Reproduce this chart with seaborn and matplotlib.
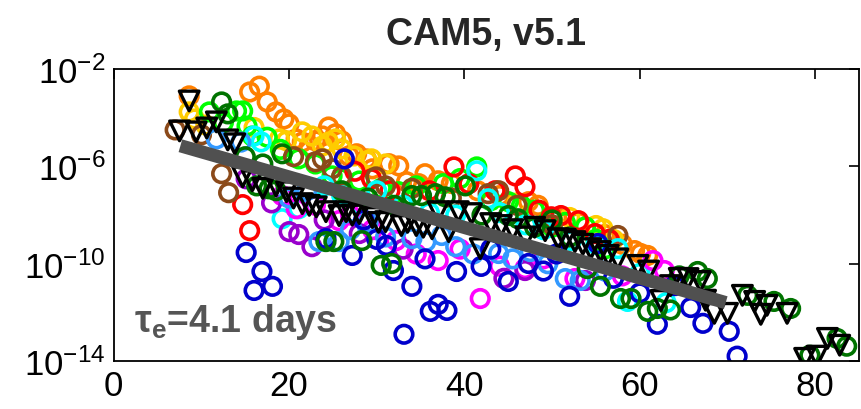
import numpy as np
import matplotlib
matplotlib.use("Agg")
import matplotlib.pyplot as plt
import seaborn as sns

# --- data (x = day, y given as log10 of the value) ---
orange_x = [8.6, 15.5, 16.6, 17.5, 18.5, 19.4, 20.0, 20.8, 21.5, 22.3, 23.0, 23.8, 24.5, 25.3, 26.0,
            26.8, 27.7, 28.8, 29.5, 31.4, 32.5, 33.4, 34.8, 35.5, 37.0, 38.5, 41.5, 44.0, 47.3, 48.4,
            50.5, 53.0, 56.0, 58.0, 59.4, 60.1, 60.9]
orange_y = [-3.10, -2.94, -2.70, -3.35, -3.76, -4.05, -4.25, -4.87, -5.00, -5.16, -4.95, -4.75, -4.38, -4.66, -4.95,
            -5.57, -5.48, -5.69, -6.10, -5.89, -5.98, -6.63, -6.71, -6.30, -6.59, -6.70, -7.00, -7.20, -7.45, -7.60,
            -8.10, -8.30, -8.80, -9.20, -9.46, -9.58, -9.66]

yellow_x = [8.6, 9.2, 10.5, 16.0, 18.9, 19.7, 21.5, 22.6, 23.8, 24.5, 25.3, 26.0, 27.4, 28.9, 29.4, 31.0,
            46.0, 52.0, 55.0, 55.8, 57.0]
yellow_y = [-3.76, -4.05, -4.30, -4.40, -4.87, -4.95, -4.58, -4.75, -5.16, -5.00, -4.87, -5.28, -5.57, -5.77, -5.69, -5.90,
            -7.50, -8.10, -8.43, -8.56, -9.00]

lime_x = [10.9, 12.5, 14.0, 14.7, 15.2, 15.8, 17.5, 19.0, 21.1, 23.0, 24.9, 25.9, 28.0, 30.5, 32.5, 34.5,
          37.6, 39.5, 41.4, 43.0, 45.0, 46.5, 48.0, 50.0, 51.5, 53.8, 55.0, 56.1]
lime_y = [-3.76, -4.20, -3.72, -3.72, -4.34, -4.75, -4.80, -5.30, -5.69, -5.90, -6.39, -6.51, -6.60, -6.90, -7.04, -6.80,
          -6.71, -6.50, -6.02, -7.41, -7.45, -7.61, -7.80, -8.50, -8.30, -8.48, -9.00, -9.38]

red_x = [14.7, 15.5, 27.5, 29.4, 31.5, 36.0, 38.8, 40.5, 43.5, 45.8, 46.9, 48.5, 49.9, 51.0, 53.0, 54.9, 56.5]
red_y = [-7.57, -8.64, -6.20, -6.51, -7.00, -7.00, -6.02, -6.71, -7.00, -6.39, -6.84, -7.80, -8.07, -8.02, -8.23, -8.76, -9.00]

brown_x = [7.0, 10.0, 12.3, 13.1, 20.5, 23.0, 23.8, 24.9, 26.0, 29.9, 31.0, 34.0, 38.5, 42.7, 43.9, 46.0, 50.0, 57.5]
brown_y = [-4.50, -4.70, -6.30, -7.08, -5.60, -5.81, -5.69, -6.10, -6.40, -6.43, -6.80, -6.90, -7.30, -7.12, -7.00, -7.60, -8.40, -8.84]

cyan_x = [16.0, 16.8, 19.2, 21.1, 24.0, 26.0, 28.0, 30.0, 33.0, 36.0, 39.0, 41.4, 42.7, 44.0, 47.0, 49.0,
          52.2, 55.0, 57.5, 58.6, 60.0, 63.0]
cyan_y = [-4.75, -4.99, -8.15, -7.74, -6.80, -7.20, -7.53, -7.00, -7.60, -7.90, -8.00, -6.18, -7.33, -7.90, -8.40, -8.60,
          -9.05, -9.20, -9.38, -11.55, -10.40, -11.60]

magenta_x = [19.2, 20.8, 23.0, 25.7, 27.0, 29.5, 32.2, 34.5, 37.0, 39.5, 41.8, 44.0, 46.9, 49.0, 52.6, 58.0, 61.5, 62.8]
magenta_y = [-7.20, -7.74, -7.60, -8.23, -8.00, -8.60, -9.05, -9.60, -9.87, -9.40, -11.43, -10.10, -10.20, -9.80, -10.61, -10.50, -9.87, -10.28]

purple_x = [15.1, 18.0, 20.0, 21.1, 22.6, 24.0, 28.0, 33.0, 44.5, 46.9, 53.8]
purple_y = [-6.51, -7.50, -8.68, -8.80, -9.30, -8.20, -8.76, -9.40, -10.60, -10.28, -10.69]

skyblue_x = [11.7, 14.5, 20.0, 22.0, 23.4, 25.7, 27.0, 29.0, 31.0, 34.0, 35.6, 37.4, 39.0, 41.0, 43.9, 45.5,
             47.5, 49.5, 51.5, 53.2, 56.0]
skyblue_y = [-4.87, -5.00, -7.30, -7.00, -9.09, -9.09, -8.60, -8.30, -8.90, -8.97, -9.09, -8.84, -9.30, -9.60, -9.58, -9.80,
             -9.50, -10.00, -10.61, -10.69, -10.30]

blue_x = [15.1, 16.9, 18.1, 16.0, 24.2, 26.3, 27.2, 28.5, 30.0, 31.1, 31.9, 34.0, 35.5, 36.1, 37.0, 38.0, 33.1, 39.1,
          41.9, 43.0, 45.0, 47.3, 49.0, 50.5, 52.0, 55.2, 57.0, 60.0, 62.0, 64.0, 65.8, 67.2, 70.2, 71.1]
blue_y = [-9.54, -10.32, -10.93, -11.10, -8.97, -5.69, -9.66, -8.20, -9.00, -9.25, -10.28, -10.93, -9.80, -11.96, -11.67, -11.92, -12.90, -10.32,
          -10.11, -9.40, -10.73, -9.99, -10.30, -9.60, -11.34, -9.17, -10.60, -11.20, -12.49, -10.90, -11.80, -12.45, -12.78, -13.80]

dgreen_x = [12.3, 13.0, 15.0, 16.3, 17.0, 17.7, 18.5, 19.2, 24.2, 25.1, 26.0, 28.3, 29.0, 30.5, 31.7, 32.0, 34.0, 35.1,
            36.7, 37.8, 40.1, 42.0, 45.0, 46.1, 48.0, 50.0, 52.0, 54.0, 55.5, 57.8, 59.0, 60.9, 62.0, 63.5, 64.5,
            66.6, 67.7, 72.3, 75.3, 77.2, 79.4, 82.5, 83.6]
dgreen_y = [-3.35, -3.84, -5.60, -6.80, -5.90, -6.92, -7.00, -5.48, -9.09, -9.09, -7.00, -9.05, -7.30, -10.07, -9.99, -7.60, -7.20, -7.20,
            -7.12, -7.25, -6.80, -8.00, -8.02, -8.15, -8.50, -8.20, -8.90, -10.20, -10.93, -11.43, -11.43, -11.96, -11.84, -11.90, -10.50,
            -10.32, -10.61, -11.30, -11.55, -11.84, -13.76, -13.07, -13.39]

tri_x = [8.6, 7.5, 9.4, 10.6, 11.7, 13.0, 13.8, 14.7, 15.8, 17.0, 18.5, 19.7, 20.5, 21.5, 22.3, 23.1, 24.2, 25.7,
         26.5, 27.2, 28.0, 29.5, 30.2, 31.0, 32.8, 33.5, 34.5, 35.3, 36.3, 38.2, 37.0, 39.3, 40.8, 41.8, 43.0,
         44.2, 45.5, 47.0, 48.0, 49.2, 50.7, 51.5, 52.6, 53.5, 54.4, 55.5, 56.4, 57.5, 59.8, 61.0, 62.4, 63.5,
         64.5, 65.5, 66.9, 67.5, 68.5, 70.0, 71.7, 73.1, 73.8, 74.5, 76.8, 78.8, 80.2, 81.4, 82.8]
tri_y = [-3.31, -4.54, -4.58, -4.42, -4.17, -4.91, -5.07, -6.43, -6.59, -6.90, -6.80, -7.04, -7.30, -7.53, -7.60, -7.66, -7.86, -8.02,
         -7.86, -8.00, -7.94, -8.10, -8.30, -8.27, -8.43, -8.30, -8.43, -8.50, -8.56, -8.68, -7.86, -7.86, -7.94, -9.38, -8.35,
         -8.43, -8.60, -8.90, -8.50, -8.64, -8.97, -9.00, -9.09, -9.20, -9.38, -9.50, -9.66, -9.80, -10.07, -10.30, -11.51, -10.90,
         -10.60, -10.61, -10.73, -11.50, -12.04, -12.04, -11.30, -11.55, -12.08, -11.71, -12.04, -13.89, -13.80, -13.07, -13.35]

# fitted e-folding line (tau_e = 4.1 days)
fit_x = [7.6, 69.8]
fit_y = [-5.15, -11.6]

x_ticks = [0, 20, 40, 60, 80]
y_ticks = [1e-14, 1e-10, 1e-6, 1e-2]
y_tick_labels = [r'$10^{-14}$', r'$10^{-10}$', r'$10^{-6}$', r'$10^{-2}$']

circle_series = [
    (orange_x, orange_y, '#FF8000'),
    (yellow_x, yellow_y, '#FFCC00'),
    (lime_x, lime_y, '#00FF00'),
    (red_x, red_y, '#FF0000'),
    (brown_x, brown_y, '#8B4A1A'),
    (cyan_x, cyan_y, '#00FFFF'),
    (magenta_x, magenta_y, '#FF00FF'),
    (purple_x, purple_y, '#9900CC'),
    (skyblue_x, skyblue_y, '#3399FF'),
    (blue_x, blue_y, '#0000CC'),
    (dgreen_x, dgreen_y, '#007300'),
]

sns.set_style("white")
plt.rcParams['font.family'] = ['Liberation Sans', 'DejaVu Sans']
plt.rcParams['mathtext.fontset'] = 'custom'
plt.rcParams['mathtext.rm'] = 'Liberation Sans'
plt.rcParams['mathtext.it'] = 'Liberation Sans:italic'
plt.rcParams['mathtext.bf'] = 'Liberation Sans:bold'

fig = plt.figure(figsize=(8.62, 4.10), dpi=100)
ax = fig.add_axes([0.132, 0.117, 0.8645, 0.712])
ax.set_yscale('log')

for xs, ys, c in circle_series:
    sns.scatterplot(x=xs, y=10.0 ** np.array(ys), ax=ax, marker='o', s=160,
                    color=c, facecolor='none', edgecolor=c, linewidth=2.6, zorder=2)

sns.scatterplot(x=tri_x, y=10.0 ** np.array(tri_y), ax=ax, marker='v', s=200,
                color='black', facecolor='none', edgecolor='black', linewidth=2.4, zorder=3)

sns.lineplot(x=fit_x, y=10.0 ** np.array(fit_y), ax=ax, color='#505050',
             linewidth=9.5, solid_capstyle='butt', zorder=4)

ax.text(2.3, 10.0 ** -12.75, r'$\mathbf{τ_e}$=4.1 days', color='#555555',
        fontsize=27, fontweight='bold', va='baseline', ha='left', zorder=5)

ax.set_xlim(0, 85)
ax.set_ylim(1e-14, 1e-2)
ax.set_xticks(x_ticks)
ax.set_xticklabels([str(t) for t in x_ticks])
ax.set_yticks(y_ticks)
ax.set_yticklabels(y_tick_labels)
ax.minorticks_off()
ax.tick_params(axis='both', direction='in', length=7, width=1.2, labelsize=25,
               top=True, right=True, pad=6, colors='black')
for sp in ax.spines.values():
    sp.set_linewidth(1.3)
    sp.set_color('black')

ax.set_title('CAM5, v5.1', fontsize=27, fontweight='bold', pad=18)

fig.savefig('out.png', dpi=100)
